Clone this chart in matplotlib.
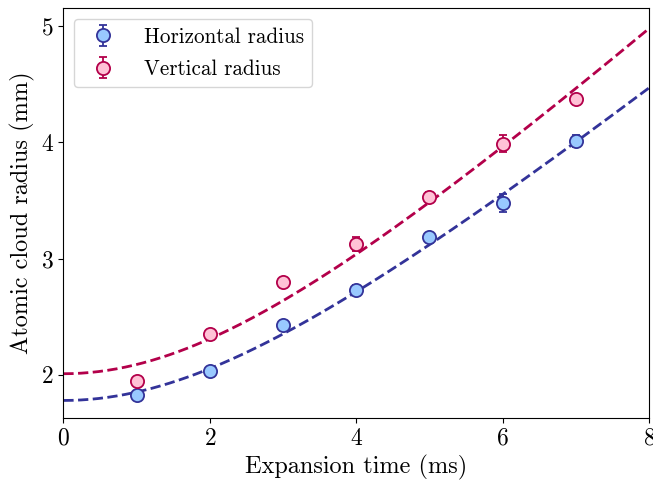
import numpy as np
import matplotlib
matplotlib.use('Agg')
import matplotlib.pyplot as plt

plt.rcParams['font.family'] = 'serif'
plt.rcParams['font.serif'] = ['cmr10']
plt.rcParams['mathtext.fontset'] = 'cm'
plt.rcParams['axes.formatter.use_mathtext'] = True

# datos
t = [1, 2, 3, 4, 5, 6, 7]
r_h = [1.83, 2.03, 2.43, 2.73, 3.19, 3.48, 4.01]
e_h = [0.02, 0.02, 0.02, 0.04, 0.02, 0.08, 0.05]
r_v = [1.95, 2.35, 2.80, 3.13, 3.53, 3.99, 4.37]
e_v = [0.02, 0.02, 0.02, 0.06, 0.04, 0.07, 0.02]

# parametros del ajuste: sigma(t) = sqrt(s0^2 + v^2 t^2)
s0_h, v_h = 1.78, 0.5125
s0_v, v_v = 2.01, 0.5696

tt = np.linspace(0, 8, 200)

fig, ax = plt.subplots(figsize=(6.53, 4.82), dpi=100)

ax.plot(tt, np.sqrt(s0_h**2 + (v_h*tt)**2), '--', color='#333399', lw=2)
ax.plot(tt, np.sqrt(s0_v**2 + (v_v*tt)**2), '--', color='#b3004a', lw=2)

ax.errorbar(t, r_h, yerr=e_h, fmt='o', ms=9.5, mfc='#99c9ff', mec='#333399',
            mew=1.3, ecolor='#333399', elinewidth=1.3, capsize=3, label='Horizontal radius')
ax.errorbar(t, r_v, yerr=e_v, fmt='o', ms=9.5, mfc='#ffc2d6', mec='#b3004a',
            mew=1.3, ecolor='#b3004a', elinewidth=1.3, capsize=3, label='Vertical radius')

ax.set_xlim(0, 8)
ax.set_ylim(1.63, 5.155)
ax.set_xticks([0, 2, 4, 6, 8])
ax.set_yticks([2, 3, 4, 5])
ax.tick_params(labelsize=17)
ax.set_xlabel('Expansion time (ms)', fontsize=17.5)
ax.set_ylabel('Atomic cloud radius (mm)', fontsize=17.5)
ax.legend(loc='upper left', fontsize=15.2, handletextpad=0.9, labelspacing=0.6)

plt.subplots_adjust(left=0.097, right=0.994, top=0.983, bottom=0.133)
plt.savefig('out.png')
